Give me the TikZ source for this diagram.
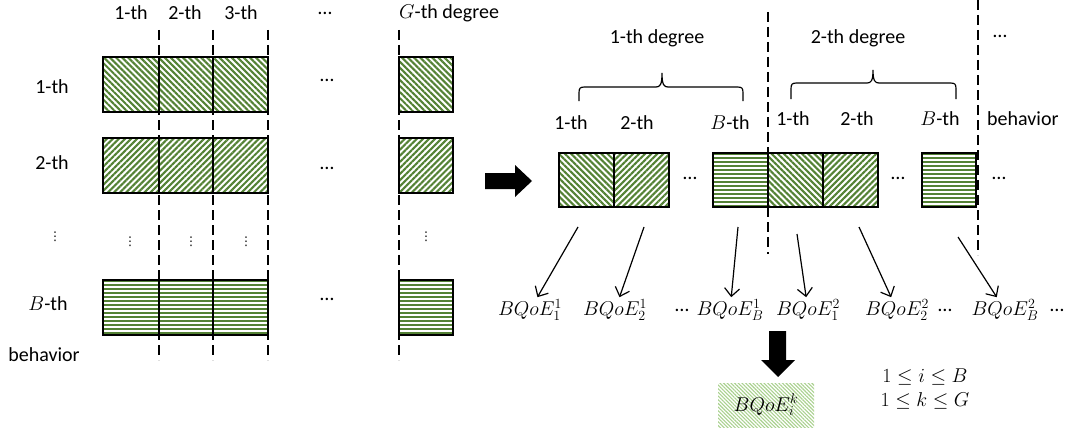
\documentclass[tikz,border=0pt]{standalone}
\usepackage{fix-cm}
\usepackage{fontspec}
\setmainfont{Carlito}
\newfontfamily\dvsans{DejaVu Sans}
\usetikzlibrary{patterns.meta,arrows.meta}
\definecolor{grn}{RGB}{84,130,53}
\definecolor{lgrn}{RGB}{169,209,142}
\newcommand{\hzlines}[4]{%
  \begin{scope}
    \clip (#1,#2) rectangle (#3,#4);
    \fill[grn] (#1,#2) rectangle (#3,#4);
    \foreach \yy in {0,4,...,60} \draw[white, line width=2pt] (#1,#2+3+\yy) -- (#3,#2+3+\yy);
  \end{scope}}
\begin{document}
\begin{tikzpicture}[x=1pt,y=-1pt,
  every node/.style={font=\fontsize{20}{24}\selectfont, inner sep=2pt},
  nw/.style={pattern={Lines[angle=-45,distance=4.3pt,line width=2.1pt]}, pattern color=grn},
  ne/.style={pattern={Lines[angle=45,distance=4.3pt,line width=2.1pt]}, pattern color=grn},
  cell/.style={draw=black, line width=1.4pt},
  dsh/.style={line width=1.2pt, dash pattern=on 10pt off 5pt},
  conn/.style={-{Straight Barb[length=8pt,width=15pt]}, line width=1.2pt},
  brc/.style={line width=1.2pt},
  vd/.style={font=\dvsans\fontsize{12}{14}\selectfont},
  bigarrow/.style={fill=black}]
\useasboundingbox (0,0) rectangle (1065,428);

% ---------------- left block ----------------
% row 1
\path[nw] (103,57) rectangle (268,112);
\path[nw] (399,57) rectangle (453,112);
\draw[cell] (103,57) rectangle (268,112);
\draw[cell] (399,57) rectangle (453,112);
\draw[cell] (159,57) -- (159,112) (213,57) -- (213,112);
% row 2
\path[ne] (103,138) rectangle (268,193);
\path[ne] (399,138) rectangle (453,193);
\draw[cell] (103,138) rectangle (268,193);
\draw[cell] (399,138) rectangle (453,193);
\draw[cell] (159,138) -- (159,193) (213,138) -- (213,193);
% row B
\hzlines{103}{280}{268}{335}
\hzlines{399}{280}{453}{335}
\draw[cell] (103,280) rectangle (268,335);
\draw[cell] (399,280) rectangle (453,335);
\draw[cell] (159,280) -- (159,335) (213,280) -- (213,335);
% dashed column separators
\foreach \xx in {159,213,268,399} \draw[dsh] (\xx,30) -- (\xx,360);

% column labels
\node (c1) at (131,13) {1-th};
\node (c2) at (185,13) {2-th};
\node (c3) at (241,13) {3-th};
\node (cd) at (325,13) {…};
\node[anchor=west, inner sep=0pt] (cg) at (399,13) {$G$-th degree};
% row labels
\node (r1) at (52,87) {1-th};
\node (r2) at (52,163) {2-th};
\node[vd] (rv) at (55,237) {⋮};
\node (rb) at (48,304) {$B$-th};
\node (rbh) at (44,355) {behavior};
% vertical dots in columns
\node[vd] (v1) at (130,242) {⋮};
\node[vd] (v2) at (191,242) {⋮};
\node[vd] (v3) at (246,242) {⋮};
\node[vd] (v4) at (426,237) {⋮};
% horizontal dots in rows
\node (h1) at (327,80) {…};
\node (h2) at (327,168) {…};
\node (h3) at (327,299) {…};

% big right arrow
\fill[bigarrow] (485,173) -- (515,173) -- (515,165) -- (532,181) -- (515,197) -- (515,189) -- (485,189) -- cycle;

% ---------------- right block ----------------
\path[nw] (559,153) rectangle (614,207);
\path[ne] (614,153) rectangle (669,207);
\hzlines{713}{153}{768}{207}
\path[nw] (768,153) rectangle (823,207);
\path[ne] (823,153) rectangle (878,207);
\hzlines{922}{153}{976}{207}
\draw[cell] (559,153) rectangle (669,207) (614,153) -- (614,207);
\draw[cell] (713,153) rectangle (878,207) (768,153) -- (768,207) (823,153) -- (823,207);
\draw[cell] (922,153) rectangle (976,207);
\node (rd1) at (690,178) {…};
\node (rd2) at (898,178) {…};
\node (rd3) at (999,178) {…};

\draw[dsh] (768,12) -- (768,254);
\draw[dsh] (978,0) -- (978,255);

\node (d1) at (657,38) {1-th degree};
\node (d2) at (858,38) {2-th degree};
\node (d3) at (1000,36) {…};

% braces
\draw[brc] (579,101) -- (579,93) .. controls (579,88) and (580,87) .. (585,87) -- (656,87)
  .. controls (660,87) and (662,85) .. (662,73) .. controls (662,85) and (664,87) .. (668,87)
  -- (737,87) .. controls (742,87) and (743,88) .. (743,93) -- (743,101);
\draw[brc] (791,99) -- (791,89) .. controls (791,84) and (792,83) .. (797,83) -- (867,83)
  .. controls (871,83) and (873,81) .. (873,70) .. controls (873,81) and (875,83) .. (879,83)
  -- (950,83) .. controls (955,83) and (956,84) .. (956,89) -- (956,99);

\node (b1) at (571,123) {1-th};
\node (b2) at (637,123) {2-th};
\node (b3) at (730,123) {$B$-th};
\node (b4) at (793,119) {1-th};
\node (b5) at (857,119) {2-th};
\node (b6) at (940,119) {$B$-th};
\node[anchor=west, inner sep=0pt] (b7) at (987,119) {behavior};

% outputs
\node (q1) at (530,310) {$BQoE_1^1$};
\node (q2) at (615,310) {$BQoE_2^1$};
\node (qd1) at (682,310) {…};
\node (q3) at (730,310) {$BQoE_B^1$};
\node (q4) at (808,310) {$BQoE_1^2$};
\node (q5) at (897,310) {$BQoE_2^2$};
\node (qd2) at (945,310) {…};
\node (q6) at (1005,310) {$BQoE_B^2$};
\node (qd3) at (1057,310) {…};

\coordinate (s1) at (578,227);
\coordinate (s2) at (644,227);
\coordinate (s3) at (738,227);
\coordinate (s4) at (797,234);
\coordinate (s5) at (859,227);
\coordinate (s6) at (958,237);
\draw[conn] (s1) -- (q1);
\draw[conn] (s2) -- (q2);
\draw[conn] (s3) -- (q3);
\draw[conn] (s4) -- (q4);
\draw[conn] (s5) -- (q5);
\draw[conn] (s6) -- (q6);

% big down arrow
\fill[bigarrow] (769,331) -- (786,331) -- (786,360) -- (795,360) -- (778,377) -- (761,360) -- (769,360) -- cycle;

% result box
\node[pattern={Lines[angle=-45,distance=2.6pt,line width=1.1pt]}, pattern color=lgrn,
  minimum width=96pt, minimum height=44pt, inner sep=0pt] (res) at (766,405) {$BQoE_i^k$};

\node (k1) at (925,377) {$1 \le i \le B$};
\node (k2) at (925,401) {$1 \le k \le G$};
\end{tikzpicture}
\end{document}
